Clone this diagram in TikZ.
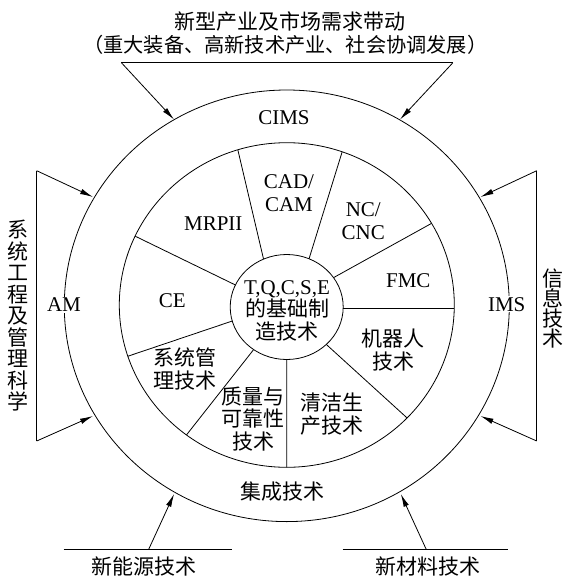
\documentclass[tikz,border=0pt]{standalone}
\usepackage{fontspec}
\setmainfont{Liberation Serif}
\newfontfamily\cjk{Noto Sans CJK SC}
\usetikzlibrary{arrows.meta}
\begin{document}
\begin{tikzpicture}[x=1pt,y=-1pt,
  line width=0.8pt,
  lbl/.style={font=\fontsize{21}{22.5}\selectfont, align=center, inner sep=0pt},
  zh/.style={lbl, font=\fontsize{21}{22.5}\selectfont\cjk},
  arr/.style={-{Latex[length=13pt,width=5.5pt]}},
]
\useasboundingbox (0,0) rectangle (567,576);
\coordinate (O) at (286.8,305.8);
\coordinate (M) at (286.8,305);
\coordinate (S) at (286.7,307);
\draw (O) ellipse [x radius=222.5, y radius=215.8];
\draw (M) ellipse [x radius=167.5, y radius=162.3];
\draw (S) ellipse [x radius=56.5, y radius=52.5];
% sector dividers
\draw ([shift={(-114.2:56.5 and 52.5)}]S) -- ([shift={(-107:167.5 and 162.3)}]M);
\draw ([shift={(-66.7:56.5 and 52.5)}]S) -- ([shift={(-70.7:167.5 and 162.3)}]M);
\draw ([shift={(-34:56.5 and 52.5)}]S) -- ([shift={(-30.2:167.5 and 162.3)}]M);
\coordinate (h1) at (343.2,308);
\coordinate (h2) at (454.3,308);
\draw (h1) -- (h2);
\draw ([shift={(45.5:56.5 and 52.5)}]S) -- ([shift={(44.1:167.5 and 162.3)}]M);
\draw ([shift={(90:56.5 and 52.5)}]S) -- ([shift={(90:167.5 and 162.3)}]M);
\draw ([shift={(125.8:56.5 and 52.5)}]S) -- ([shift={(126.8:167.5 and 162.3)}]M);
\draw ([shift={(164.5:56.5 and 52.5)}]S) -- ([shift={(161.6:167.5 and 162.3)}]M);
\draw ([shift={(-155.2:56.5 and 52.5)}]S) -- ([shift={(-154.9:167.5 and 162.3)}]M);
% top bracket
\coordinate (t1) at (121.4,62.7);
\coordinate (t2) at (452.9,62.7);
\coordinate (ta1) at (174,119.5);
\coordinate (ta2) at (400,119.5);
\draw (t1) -- (t2);
\draw[arr] (t1) -- (ta1);
\draw[arr] (t2) -- (ta2);
% left bracket
\coordinate (l1) at (36.7,170.7);
\coordinate (l2) at (36.7,441);
\coordinate (la1) at (93,197);
\coordinate (la2) at (93,416);
\draw (l1) -- (l2);
\draw[arr] (l1) -- (la1);
\draw[arr] (l2) -- (la2);
% right bracket
\coordinate (r1) at (536.7,170.7);
\coordinate (r2) at (536.7,441);
\coordinate (ra1) at (480.5,197);
\coordinate (ra2) at (480.5,416);
\draw (r1) -- (r2);
\draw[arr] (r1) -- (ra1);
\draw[arr] (r2) -- (ra2);
% bottom lines
\coordinate (b1) at (63.5,549.3);
\coordinate (b2) at (232.1,549.3);
\coordinate (bm1) at (148.7,549.3);
\coordinate (ba1) at (174.1,494);
\coordinate (b3) at (342.7,549.3);
\coordinate (b4) at (507.8,549.3);
\coordinate (bm2) at (426.2,549.3);
\coordinate (ba2) at (400.8,494);
\draw (b1) -- (b2);
\draw[arr] (bm1) -- (ba1);
\draw (b3) -- (b4);
\draw[arr] (bm2) -- (ba2);
% texts
\node[zh, font=\fontsize{21}{22}\selectfont\cjk] (top1) at (290,21.7) {新型产业及市场需求带动};
\node[zh, font=\fontsize{20.2}{22}\selectfont\cjk] (top2) at (285.3,45) {（重大装备、高新技术产业、社会协调发展）};
\node[lbl] (cims) at (284,117.3) {CIMS};
\node[zh] (jc) at (282.5,491.7) {集成技术};
\node[lbl, fill=white, inner sep=1pt] (am) at (64,305) {AM};
\node[lbl, fill=white, inner sep=1pt] (ims) at (506.7,304.3) {IMS};
\node[lbl] (mrp) at (213.3,224) {MRPII};
\node[lbl] (cad) at (289,193.3) {CAD/\\CAM};
\node[lbl] (nc) at (363.3,221) {NC/\\CNC};
\node[lbl] (fmc) at (408.3,281) {FMC};
\node[lbl] (ce) at (172.3,301) {CE};
\node[zh] (robot) at (393.3,350) {机器人\\技术};
\node[zh] (sys) at (185,369) {系统管\\理技术};
\node[zh] (qual) at (253.3,419) {质量与\\可靠性\\技术};
\node[zh] (clean) at (331.7,414) {清洁生\\产技术};
\node[lbl] (core) at (287,310.5) {T,Q,C,S,E\\{\cjk 的基础制}\\{\cjk 造技术}};
\node[zh] (energy) at (144.2,566.7) {新能源技术};
\node[zh] (mat) at (428.1,566.7) {新材料技术};
\node[zh, font=\fontsize{21}{21.5}\selectfont\cjk] (left) at (18.3,315.8) {系\\统\\工\\程\\及\\管\\理\\科\\学};
\node[zh, font=\fontsize{21}{20}\selectfont\cjk] (right) at (553.3,308.3) {信\\息\\技\\术};
\end{tikzpicture}
\end{document}
